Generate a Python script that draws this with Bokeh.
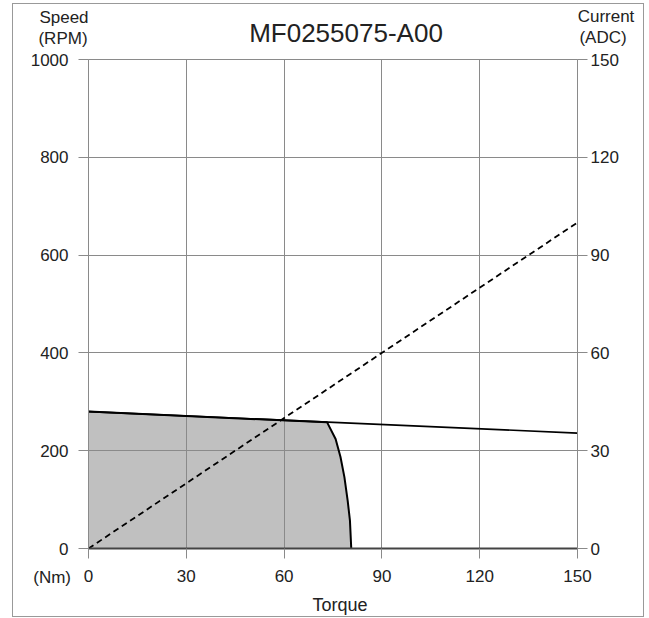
from bokeh.plotting import figure
from bokeh.models import Range1d, LinearAxis, FixedTicker, Div
from bokeh.layouts import column
from bokeh.embed import file_html
from bokeh.resources import INLINE

# ---- data ----
title_text = "MF0255075-A00"
torque_ticks = [0, 30, 60, 90, 120, 150]
speed_ticks = [0, 200, 400, 600, 800, 1000]
current_ticks = [0, 30, 60, 90, 120, 150]

cont_torque = [0, 150]
cont_speed = [280, 236]

peak_torque = [0, 73.2, 75.8, 77.3, 78.5, 79.5, 80.2, 80.6]
peak_speed = [280, 258, 224, 187, 146, 98, 57, 0]

current_torque = [0, 150]
current_amps = [0, 100]

# ---- layout constants ----
W, H = 649, 618
FL, FR, FT, FB = 88, 577, 59, 548
FONT = "Liberation Sans"
TXT = "#222222"
GRID = "#8a8a8a"
DY = -12  # measured offset of the overlay container

p = figure(width=W, height=H, output_backend="svg", toolbar_location=None,
           x_range=Range1d(0, 150), y_range=Range1d(0, 1000),
           min_border_left=FL, min_border_right=W - FR,
           min_border_top=FT, min_border_bottom=H - FB,
           x_axis_location=None, y_axis_location=None)
p.title.text = ""
p.background_fill_color = "white"
p.border_fill_color = "white"
p.outline_line_color = GRID
p.outline_line_width = 1
p.extra_y_ranges = {"cur": Range1d(0, 150)}


def style_axis(ax, ticks):
    ax.ticker = FixedTicker(ticks=ticks)
    ax.minor_tick_line_color = None
    ax.major_tick_out = 10
    ax.major_tick_in = 0
    ax.major_tick_line_color = GRID
    ax.axis_line_color = GRID
    ax.major_label_text_font = FONT
    ax.major_label_text_font_size = "17px"
    ax.major_label_text_color = TXT


bottom = LinearAxis()
style_axis(bottom, torque_ticks)
bottom.axis_line_color = "#444444"
bottom.axis_line_width = 2
bottom.major_label_standoff = 11
p.add_layout(bottom, "below")

left = LinearAxis()
style_axis(left, speed_ticks)
left.major_label_standoff = 10
p.add_layout(left, "left")

right = LinearAxis(y_range_name="cur")
style_axis(right, current_ticks)
right.major_label_standoff = 3
p.add_layout(right, "right")

p.xgrid.ticker = FixedTicker(ticks=torque_ticks)
p.ygrid.ticker = FixedTicker(ticks=speed_ticks)
for g in (p.xgrid, p.ygrid):
    g.grid_line_color = GRID
    g.grid_line_width = 1

# shaded peak region
r = p.patch(peak_torque + [0], peak_speed + [0], fill_color="#c0c0c0",
            line_color=None)
r.level = "image"

p.line(peak_torque, peak_speed, line_color="black", line_width=2)
p.line(cont_torque, cont_speed, line_color="black", line_width=1.6)
p.line(current_torque, current_amps, y_range_name="cur", line_color="black",
       line_width=1.8, line_dash="6 4")


# ---- texts outside the plot frame, as HTML overlaid on the canvas ----
def span(text, x, baseline, size, align="center"):
    top = baseline - 0.8465 * size - H + DY
    shift = {"center": "-50%", "right": "-100%", "left": "0"}[align]
    return (f'<span style="position:absolute;left:{x}px;top:{top:.1f}px;'
            f"font-family:'{FONT}';font-size:{size}px;line-height:1;"
            f'color:{TXT};white-space:nowrap;transform:translateX({shift})">'
            f'{text}</span>')


parts = [
    span(title_text, 346, 42, 26),
    span("Speed", 64, 23, 17),
    span("(RPM)", 63, 44, 17),
    span("Current", 606, 22, 17),
    span("(ADC)", 603, 43, 17),
    span("(Nm)", 71, 583, 17, "right"),
    span("Torque", 340, 611, 18),
    (f'<div style="position:absolute;left:12px;top:{3 - H + DY}px;width:632px;'
     f'height:614px;box-sizing:border-box;border:1px solid #999999;'
     f'pointer-events:none"></div>'),
]
html = ('<div style="position:relative;width:649px;height:0;overflow:visible;'
        'z-index:10">' + "".join(parts) + "</div>")
overlay = Div(text=html, width=W, height=0, margin=0)

layout = column(p, overlay, spacing=0)
open("out.html", "w").write(file_html(layout, INLINE))
